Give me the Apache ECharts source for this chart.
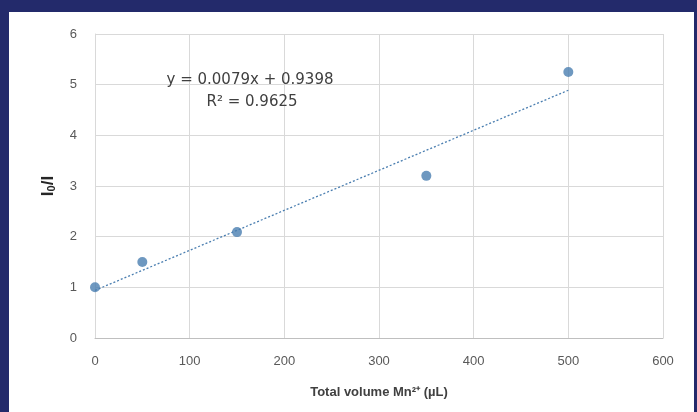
<!DOCTYPE html>
<html><head><meta charset="utf-8">
<script src="https://cdn.jsdelivr.net/npm/echarts@6/dist/echarts.min.js"></script>
<style>html,body{margin:0;padding:0;background:#fff}#c{width:697px;height:412px}</style>
</head><body><div id="c"></div>
<script>
const volumes = [0, 50, 150, 350, 500];
const ratios = [1.0, 1.5, 2.09, 3.2, 5.25];
const trendX = [0, 500];
const trendY = [0.94, 4.89];
const xTicks = [0, 100, 200, 300, 400, 500, 600];
const yTicks = [0, 1, 2, 3, 4, 5, 6];
const eqLine1 = 'y = 0.0079x + 0.9398';
const eqLine2 = 'R² = 0.9625';

const chart = echarts.init(document.getElementById('c'));
const font = 'Liberation Sans';
chart.setOption({
  animation: false,
  backgroundColor: '#ffffff',
  textStyle: { fontFamily: font },
  grid: { left: 95, right: 34, top: 34, bottom: 74 },
  graphic: [
    { type: 'rect', shape: { x: 0, y: 0, width: 697, height: 12 }, style: { fill: '#232a6b' }, z: 100 },
    { type: 'rect', shape: { x: 0, y: 0, width: 9, height: 412 }, style: { fill: '#232a6b' }, z: 100 },
    { type: 'rect', shape: { x: 694, y: 0, width: 3, height: 412 }, style: { fill: '#232a6b' }, z: 100 },
    { type: 'text', x: 250, y: 80, style: { text: eqLine1, fontSize: 15, fill: '#404040', fontFamily: 'DejaVu Sans', align: 'center', verticalAlign: 'middle' }, z: 50 },
    { type: 'text', x: 252, y: 102, style: { text: eqLine2, fontSize: 15, fill: '#404040', fontFamily: 'DejaVu Sans', align: 'center', verticalAlign: 'middle' }, z: 50 }
  ],
  xAxis: {
    type: 'value', min: 0, max: 600, interval: 100,
    name: 'Total volume Mn²⁺ (µL)', nameLocation: 'middle', nameGap: 48,
    nameTextStyle: { fontSize: 13, fontWeight: 'bold', color: '#404040' },
    axisLine: { show: true, lineStyle: { color: '#bfbfbf', width: 1 } },
    axisTick: { show: false },
    axisLabel: { color: '#595959', fontSize: 13, margin: 17, formatter: v => xTicks.includes(v) ? String(v) : '' },
    splitLine: { show: true, lineStyle: { color: '#d9d9d9', width: 1 } }
  },
  yAxis: {
    type: 'value', min: 0, max: 6, interval: 1,
    name: '{a|I}{s|0}{a|/I}', nameLocation: 'middle', nameGap: 38, nameRotate: 90,
    nameTextStyle: { rich: { a: { fontSize: 17, fontWeight: 'bold', color: '#262626' }, s: { fontSize: 11, fontWeight: 'bold', color: '#262626', verticalAlign: 'bottom', padding: [7, 0, 0, 0] } } },
    axisLine: { show: true, lineStyle: { color: '#d9d9d9', width: 1 } },
    axisTick: { show: false },
    axisLabel: { color: '#595959', fontSize: 13, margin: 18, formatter: v => yTicks.includes(v) ? String(v) : '' },
    splitLine: { show: true, lineStyle: { color: '#d9d9d9', width: 1 } }
  },
  series: [
    {
      type: 'line', data: trendX.map((x, i) => [x, trendY[i]]), symbol: 'none',
      lineStyle: { color: '#4a7eb0', width: 1.3, type: [2, 2] }, z: 3
    },
    {
      type: 'scatter', data: volumes.map((x, i) => [x, ratios[i]]), symbolSize: 10,
      itemStyle: { color: '#4a7eb0' }, z: 5
    }
  ]
});
</script></body></html>
